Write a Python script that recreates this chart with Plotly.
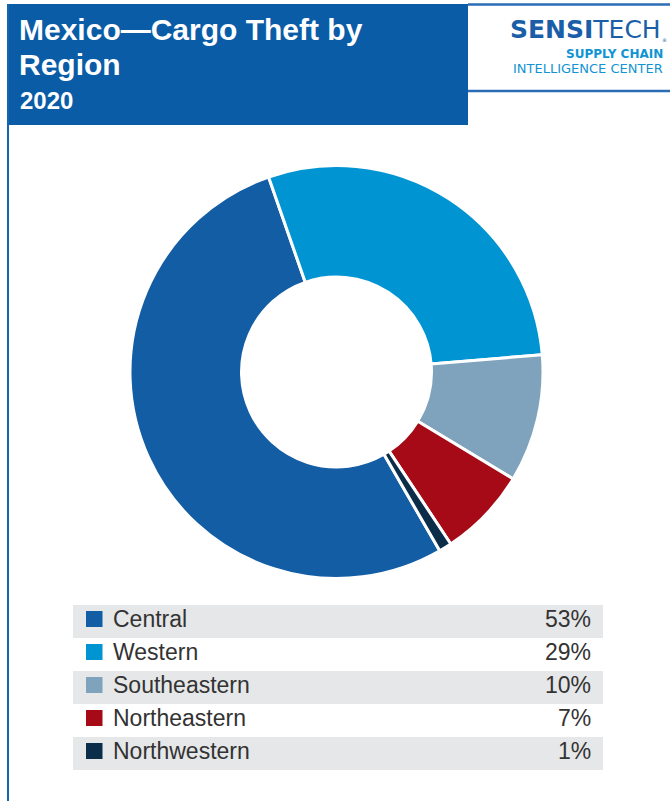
import plotly.graph_objects as go

# ---- data ----
regions = ["Central", "Western", "Southeastern", "Northeastern", "Northwestern"]
shares = [53, 29, 10, 7, 1]
share_labels = ["53%", "29%", "10%", "7%", "1%"]
colors = ["#135da5", "#0094d2", "#7fa3bc", "#a70a17", "#0b2d4a"]

title_line1 = "Mexico—Cargo Theft by"
title_line2 = "Region"
subtitle = "2020"

W, H = 670, 801


def px(x):
    return x / W


def py(y):
    return 1 - y / H


fig = go.Figure()

# donut
cx, cy, r = 336.5, 372, 206.5
fig.add_trace(go.Pie(
    labels=regions,
    values=shares,
    marker=dict(colors=colors, line=dict(color="white", width=3)),
    hole=0.46,
    sort=False,
    direction="clockwise",
    rotation=150,
    textinfo="none",
    hoverinfo="label+percent",
    showlegend=False,
    domain=dict(x=[px(cx - r), px(cx + r)], y=[py(cy + r), py(cy - r)]),
))

shapes = []
annotations = []

# title box and frame lines
blue = "#0a5ca7"
shapes.append(dict(type="rect", xref="paper", yref="paper",
                   x0=px(7), x1=px(468), y0=py(125), y1=py(4),
                   fillcolor=blue, line=dict(width=0), layer="above"))
shapes.append(dict(type="line", xref="paper", yref="paper",
                   x0=px(8), x1=px(8), y0=py(4), y1=py(801),
                   line=dict(color="#1565b0", width=2)))
for yy in (4.5, 91):
    shapes.append(dict(type="line", xref="paper", yref="paper",
                       x0=px(468), x1=px(670), y0=py(yy), y1=py(yy),
                       line=dict(color="#2a6db5", width=2.5)))

title_font = "Liberation Sans, Arial, sans-serif"
annotations.append(dict(text="<b>" + title_line1 + "</b>", x=px(18), y=py(30),
                        xref="paper", yref="paper", xanchor="left", yanchor="middle",
                        borderpad=0,
                        showarrow=False, font=dict(family=title_font, size=30, color="white")))
annotations.append(dict(text="<b>" + title_line2 + "</b>", x=px(18), y=py(64.5),
                        xref="paper", yref="paper", xanchor="left", yanchor="middle",
                        borderpad=0,
                        showarrow=False, font=dict(family=title_font, size=30, color="white")))
annotations.append(dict(text="<b>" + subtitle + "</b>", x=px(18), y=py(101),
                        xref="paper", yref="paper", xanchor="left", yanchor="middle",
                        showarrow=False, font=dict(family=title_font, size=24, color="white")))

# logo
logo_font = "DejaVu Sans, sans-serif"
annotations.append(dict(text="<b>SENSI</b>TECH", x=px(663), y=py(29.5),
                        xref="paper", yref="paper", xanchor="right", yanchor="middle",
                        showarrow=False, font=dict(family=logo_font, size=25, color="#1b5ea8")))
annotations.append(dict(text="®", x=px(669), y=py(40),
                        xref="paper", yref="paper", xanchor="right", yanchor="middle",
                        showarrow=False, font=dict(family=logo_font, size=5, color="#1b5ea8")))
annotations.append(dict(text="<b>SUPPLY CHAIN</b>", x=px(665), y=py(53.5),
                        xref="paper", yref="paper", xanchor="right", yanchor="middle",
                        showarrow=False, font=dict(family=logo_font, size=12, color="#1194d3")))
annotations.append(dict(text="INTELLIGENCE CENTER", x=px(665), y=py(68.5),
                        xref="paper", yref="paper", xanchor="right", yanchor="middle",
                        showarrow=False, font=dict(family=logo_font, size=13, color="#1194d3")))

# legend table
row_top, row_h = 605, 33
legend_font = "Liberation Sans, Arial, sans-serif"
for i, (name, lab, col) in enumerate(zip(regions, share_labels, colors)):
    y0 = row_top + i * row_h
    if i % 2 == 0:
        shapes.append(dict(type="rect", xref="paper", yref="paper",
                           x0=px(73), x1=px(603), y0=py(y0 + row_h), y1=py(y0),
                           fillcolor="#e6e7e8", line=dict(width=0), layer="below"))
    ymid = y0 + 14
    shapes.append(dict(type="rect", xref="paper", yref="paper",
                       x0=px(86), x1=px(102.5), y0=py(ymid + 8), y1=py(ymid - 8),
                       fillcolor=col, line=dict(width=0)))
    annotations.append(dict(text=name, x=px(111), y=py(ymid),
                            xref="paper", yref="paper", xanchor="left", yanchor="middle",
                            showarrow=False, font=dict(family=legend_font, size=23, color="#333333")))
    annotations.append(dict(text=lab, x=px(593), y=py(ymid),
                            xref="paper", yref="paper", xanchor="right", yanchor="middle",
                            showarrow=False, font=dict(family=legend_font, size=23, color="#333333")))

fig.update_layout(
    width=W, height=H,
    margin=dict(l=0, r=0, t=0, b=0),
    paper_bgcolor="white",
    plot_bgcolor="white",
    shapes=shapes,
    annotations=annotations,
    showlegend=False,
)

fig.write_html("out.html",
               config={"displayModeBar": False},
               post_script="document.body.style.margin='0px';document.body.style.overflow='hidden';")
